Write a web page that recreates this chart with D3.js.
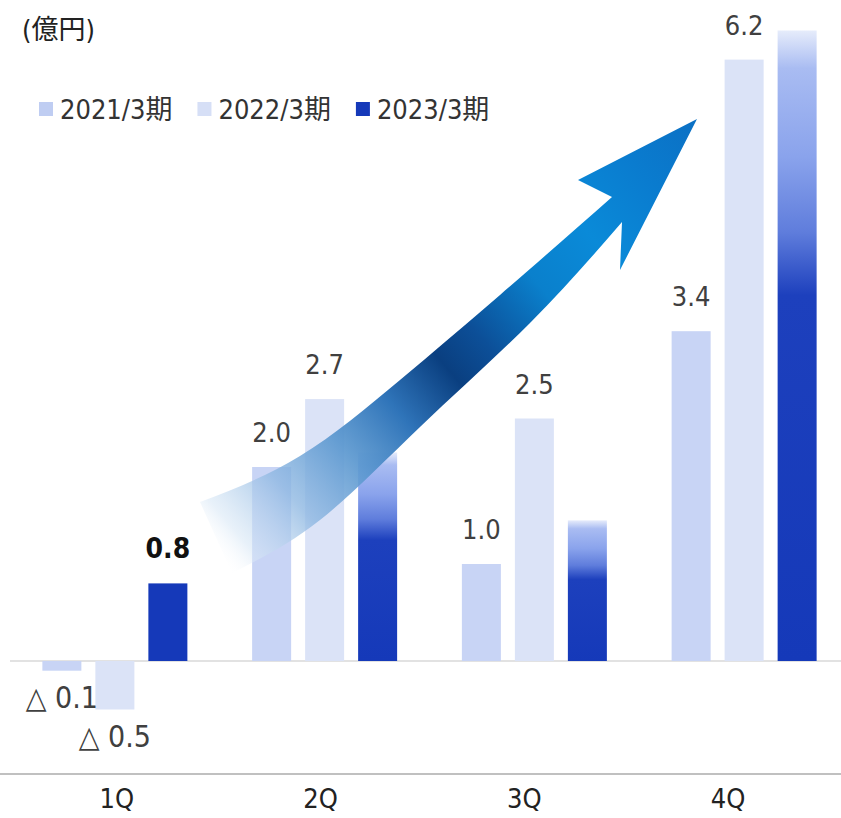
<!DOCTYPE html>
<html lang="ja">
<head>
    <meta charset="UTF-8">
    <title>四半期別 利益推移</title>
    <script src="https://d3js.org/d3.v7.min.js"></script>
    <style>
        body { margin: 0; background: #fff; }
        svg { display: block; }
        text { font-family: "DejaVu Sans Condensed", "Noto Sans CJK JP", sans-serif; }
    </style>
</head>
<body>
    <svg width="841" height="818"></svg>

    <script>
        // データ
        const quarters = ["1Q", "2Q", "3Q", "4Q"];
        const series = ["2021/3期", "2022/3期", "2023/3期"];
        const values2021 = [-0.1, 2.0, 1.0, 3.4];
        const values2022 = [-0.5, 2.7, 2.5, 6.2];
        const values2023 = [0.8, 2.15, 1.45, 6.5];
        // 2023/3期は1Qだけ表示
        const labels2023 = ["0.8", null, null, null];
        const unitLabel = "(億円)";

        const colors = ["#c8d4f5", "#dbe3f7", "#1539b9"];

        const svg = d3.select("svg");
        const width = +svg.attr("width");

        const rows = [];
        quarters.forEach((q, i) => {
            rows.push({ q, s: series[0], v: values2021[i], label: values2021[i].toFixed(1) });
            rows.push({ q, s: series[1], v: values2022[i], label: values2022[i].toFixed(1) });
            rows.push({ q, s: series[2], v: values2023[i], label: labels2023[i], bold: true });
        });

        // スケール
        const x0 = d3.scaleBand().domain(quarters).range([10, 849]);
        const half = x0.bandwidth() / 2;
        const x1 = d3.scaleBand().domain(series)
            .range([half - 72.5, half + 72.5])
            .paddingInner(0.264).paddingOuter(0);
        const y = d3.scaleLinear().domain([-1, 7]).range([758, -18]);
        const xAxisScale = d3.scaleBand().domain(quarters).range([15, 830]);

        // グラデーション
        const defs = svg.append("defs");
        const barGrad = defs.append("linearGradient")
            .attr("id", "barGrad").attr("x1", 0).attr("y1", 0).attr("x2", 0).attr("y2", 1);
        [[0, "#e6ecfb"], [0.06, "#a9bcf2"], [0.2, "#8aa3ec"], [0.32, "#5f7ddc"], [0.42, "#1d40bd"], [1, "#1539b9"]]
            .forEach(s => barGrad.append("stop").attr("offset", s[0]).attr("stop-color", s[1]));

        const arrowGrad = defs.append("linearGradient")
            .attr("id", "arrowGrad").attr("gradientUnits", "userSpaceOnUse")
            .attr("x1", 200).attr("y1", 540).attr("x2", 697).attr("y2", 119);
        [[0, "#ffffff", 0], [0.05, "#d6e6f5", 0.55], [0.15, "#8fb8e2", 0.8], [0.26, "#5a97cf", 0.92],
         [0.36, "#2f74b9", 1], [0.46, "#0a3f80", 1], [0.53, "#0c4f98", 1], [0.65, "#0a80cc", 1],
         [0.76, "#0a8ad8", 1], [0.88, "#0a7ccf", 1], [1, "#0b70c4", 1]]
            .forEach(s => arrowGrad.append("stop").attr("offset", s[0])
                .attr("stop-color", s[1]).attr("stop-opacity", s[2]));

        // 単位
        svg.append("text")
            .attr("x", 22).attr("y", 39)
            .attr("font-size", 27).attr("fill", "#222")
            .text(unitLabel);

        // 凡例
        const legend = svg.append("g").attr("transform", "translate(39,0)");
        let lx = 0;
        series.forEach((s, i) => {
            legend.append("rect")
                .attr("x", lx).attr("y", 102).attr("width", 14).attr("height", 14)
                .attr("fill", i === 2 ? colors[2] : (i === 0 ? "#bfcdf2" : "#d6dff6"));
            const t = legend.append("text")
                .attr("x", lx + 21).attr("y", 119)
                .attr("font-size", 27).attr("fill", "#333")
                .text(s);
            lx += 21 + t.node().getComputedTextLength() + 25;
        });

        // 軸線
        svg.append("line")
            .attr("x1", 10).attr("x2", width)
            .attr("y1", y(0)).attr("y2", y(0))
            .attr("stroke", "#d9d9d9").attr("stroke-width", 1.5);
        svg.append("line")
            .attr("x1", 0).attr("x2", width)
            .attr("y1", 774).attr("y2", 774)
            .attr("stroke", "#c0c0c0").attr("stroke-width", 2);

        // 棒
        svg.append("g")
            .selectAll("rect")
            .data(rows)
            .join("rect")
            .attr("x", d => x0(d.q) + x1(d.s))
            .attr("width", x1.bandwidth())
            .attr("y", d => y(Math.max(0, d.v)))
            .attr("height", d => Math.abs(y(d.v) - y(0)))
            .attr("fill", d => {
                const i = series.indexOf(d.s);
                if (i === 2 && d.q !== "1Q") return "url(#barGrad)";
                return colors[i];
            });

        // 矢印 (装飾)
        const topEdge = [[200, 502], [300, 456], [400, 380], [500, 295], [612, 197]];
        const head = [[578, 180], [697, 119], [620, 270], [622, 222]];
        const bottomEdge = [[622, 222], [530, 323], [420, 427], [320, 520], [232, 573]];
        const line = d3.line().curve(d3.curveNatural);
        const arrowPath = line(topEdge) + head.map(p => "L" + p[0] + "," + p[1]).join("")
            + line(bottomEdge).replace(/^M/, "L") + "Z";
        svg.append("path")
            .attr("d", arrowPath)
            .attr("fill", "url(#arrowGrad)");

        // 値ラベル
        svg.append("g")
            .selectAll("text")
            .data(rows.filter(d => d.label !== null))
            .join("text")
            .attr("x", d => x0(d.q) + x1(d.s) + x1.bandwidth() / 2)
            .attr("y", d => d.v >= 0 ? y(d.v) - 25 : y(d.v) + 37)
            .attr("text-anchor", "middle")
            .attr("font-size", d => d.v < 0 ? 30 : (d.bold ? 28 : 27))
            .attr("font-weight", d => d.bold ? "bold" : "normal")
            .attr("font-family", d => d.bold ? "'DejaVu Sans', sans-serif" : null)
            .attr("fill", d => d.bold ? "#111" : "#404040")
            .text(d => d.v < 0 ? "△ " + Math.abs(d.v).toFixed(1) : d.label);

        // X軸
        const xAxis = svg.append("g")
            .attr("transform", "translate(0,774)")
            .call(d3.axisBottom(xAxisScale).tickSize(0).tickPadding(15));
        xAxis.select(".domain").remove();
        xAxis.selectAll("text")
            .attr("font-size", 27)
            .attr("font-family", "'DejaVu Sans', sans-serif")
            .attr("fill", "#222");
    </script>
</body>
</html>
